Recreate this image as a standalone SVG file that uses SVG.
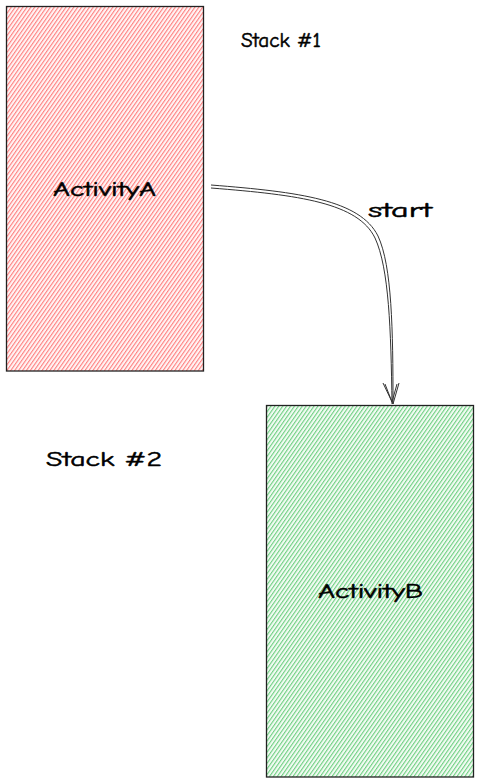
<svg xmlns="http://www.w3.org/2000/svg" width="480" height="784" viewBox="0 0 480 784">
<defs>
<pattern id="hatchRed" width="3.2" height="3.2" patternUnits="userSpaceOnUse" patternTransform="rotate(35)">
<rect width="3.2" height="3.2" fill="#fff4f4"/>
<line x1="0" y1="0" x2="0" y2="3.2" stroke="#ff8080" stroke-width="2.2"/>
</pattern>
<pattern id="hatchGreen" width="3.2" height="3.2" patternUnits="userSpaceOnUse" patternTransform="rotate(35)">
<rect width="3.2" height="3.2" fill="#f2fbf3"/>
<line x1="0" y1="0" x2="0" y2="3.2" stroke="#6fd082" stroke-width="2.2"/>
</pattern>
<style>
.box{stroke:#222;stroke-width:1.3}
.lbl{font-family:"Comic Neue","Liberation Sans",sans-serif;font-size:20px;fill:#000;stroke:#000;stroke-width:0.5}
.conn{fill:none;stroke:#333;stroke-width:1}
</style>
</defs>
<g id="stack1-label"><text class="lbl" x="241" y="47" textLength="80" lengthAdjust="spacingAndGlyphs">Stack #1</text></g>
<g id="stack2-label"><text class="lbl" x="46" y="466" textLength="116" lengthAdjust="spacingAndGlyphs">Stack #2</text></g>
<g id="activityA">
<rect class="box" x="6.5" y="6.5" width="197" height="364.5" fill="url(#hatchRed)"/>
<text class="lbl" x="53" y="196" textLength="103" lengthAdjust="spacingAndGlyphs">ActivityA</text>
</g>
<g id="activityB">
<rect class="box" x="266.5" y="405.5" width="207" height="371.5" fill="url(#hatchGreen)"/>
<text class="lbl" x="318" y="598" textLength="105" lengthAdjust="spacingAndGlyphs">ActivityB</text>
</g>
<g id="connectors">
<path class="conn" d="M211,185 C300,192 360,200 378,236 C392,266 393,330 393,404"/>
<path class="conn" d="M211,188 C300,195 358,203 375,238 C389,268 391,330 392,404"/>
<path class="conn" d="M383,383 L393,404 L399,383"/>
<path class="conn" d="M385,384 L392,402 L397,384"/>
<text class="lbl" x="368" y="217" textLength="64" lengthAdjust="spacingAndGlyphs">start</text>
</g>
</svg>
